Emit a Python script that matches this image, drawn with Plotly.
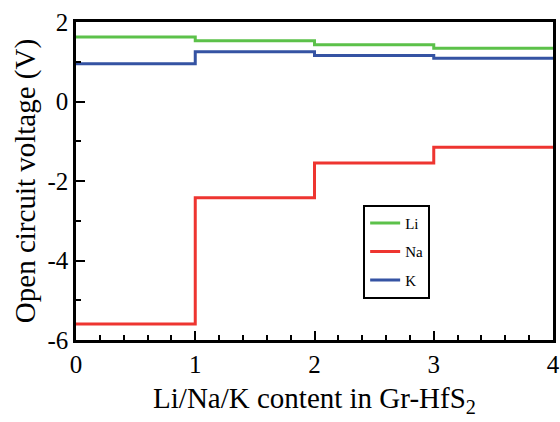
import plotly.graph_objects as go

x_steps = [0, 1, 2, 3, 4]
li_vals = [1.62, 1.53, 1.43, 1.34, 1.34]
na_vals = [-5.6, -2.42, -1.55, -1.15, -1.15]
k_vals = [0.95, 1.25, 1.16, 1.09, 1.09]
x_ticks = [0, 1, 2, 3, 4]
y_ticks = [-6, -4, -2, 0, 2]
y_tick_labels = ["-6", "-4", "-2", "0", "2"]

series = [("Li", li_vals, "#5cc14a"), ("Na", na_vals, "#ee3530"), ("K", k_vals, "#3553a3")]

font = "Liberation Serif, Times New Roman, serif"

fig = go.Figure()
for name, vals, col in series:
    fig.add_trace(go.Scatter(x=x_steps, y=vals, mode="lines", line_shape="hv",
                             name=name, legendgroup=name,
                             line=dict(color=col, width=3)))

fig.update_layout(
    width=560, height=422,
    margin=dict(l=76, r=7, t=22, b=82),
    paper_bgcolor="white", plot_bgcolor="white",
    font=dict(family=font, color="black"),
    showlegend=True,
    legend=dict(x=0.602, y=0.425, xanchor="left", yanchor="top",
                bordercolor="black", borderwidth=2, bgcolor="white",
                font=dict(size=15, family=font), tracegroupgap=6,
                itemwidth=30),
)
fig.update_xaxes(range=[0, 4], tickvals=x_ticks, showgrid=False, zeroline=False, automargin=False,
                 showline=True, linecolor="black", linewidth=2.5, mirror=True,
                 ticks="inside", ticklen=9, tickwidth=2, tickcolor="black",
                 minor=dict(dtick=0.2, ticks="inside", ticklen=5, tickwidth=1.5, tickcolor="black"),
                 tickfont=dict(size=25, family=font),
                 title=dict(text="Li/Na/K content in Gr-HfS<sub>2</sub>", font=dict(size=29, family=font), standoff=11))
fig.update_yaxes(range=[-6, 2], tickvals=y_ticks, ticktext=y_tick_labels, showgrid=False, zeroline=False, automargin=False,
                 showline=True, linecolor="black", linewidth=2.5, mirror=True,
                 ticks="inside", ticklen=9, tickwidth=2, tickcolor="black",
                 minor=dict(dtick=1, ticks="inside", ticklen=5, tickwidth=1.5, tickcolor="black"),
                 tickfont=dict(size=25, family=font),
                 title=dict(text="Open circuit voltage (V)", font=dict(size=29, family=font), standoff=4))

fig.write_html("out.html", config={"displayModeBar": False},
               post_script="document.body.style.margin='0';document.body.style.overflow='hidden';")
